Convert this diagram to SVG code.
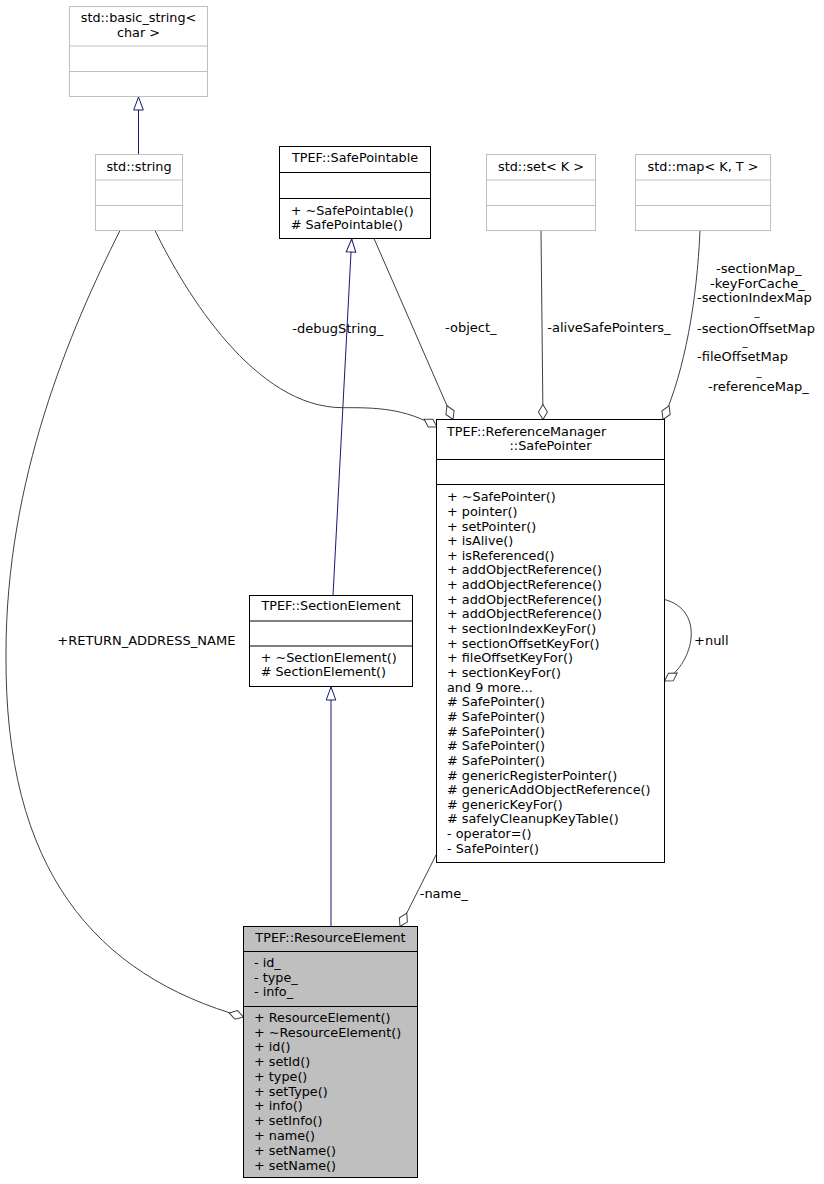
<svg xmlns="http://www.w3.org/2000/svg" width="824" height="1184" viewBox="0 0 824 1184">
<style>
text { font-family: "DejaVu Sans", sans-serif; font-size: 12.8px; fill: #000; }
.lbl { font-size: 13px; }
.us { font-size: 10px; }
.m { text-anchor: middle; }
.ext { fill: #fff; stroke: #bfbfbf; }
.cls { fill: #fff; stroke: #000; }
.cur { fill: #bfbfbf; stroke: #000; }
.sx { stroke: #bfbfbf; }
.sc { stroke: #000; }
.agg { fill: none; stroke: #404040; marker-end: url(#dia); }
.inh { fill: none; stroke: #191970; marker-end: url(#tri); }
</style>
<defs>
<marker id="dia" markerUnits="userSpaceOnUse" orient="auto" refX="0" refY="0" markerWidth="20" markerHeight="12" style="overflow:visible">
<path d="M0,0 L-7.5,-4.5 L-15,0 L-7.5,4.5 Z" fill="#fff" stroke="#404040"/>
</marker>
<marker id="tri" markerUnits="userSpaceOnUse" orient="auto" refX="0" refY="0" markerWidth="14" markerHeight="12" style="overflow:visible">
<path d="M0,0 L-13,-4.8 L-13,4.8 Z" fill="#fff" stroke="#191970"/>
</marker>
</defs>
<rect width="824" height="1184" fill="#fff"/>

<g id="connectors">
<path class="inh" d="M138.5,154.5 L138.5,97"/>
<path class="inh" d="M333,595.5 L351.7,239"/>
<path class="inh" d="M331,926.5 L331,687"/>
<path class="agg" d="M155,230.5 C185,292 255,408 343,407.7 C375,407.5 405,408 437,427"/>
<path class="agg" d="M120,230.5 C70,330 6,480 6,653 C4,870 95,975 243.5,1017"/>
<path class="agg" d="M374,238.5 L453,419.5"/>
<path class="agg" d="M541,230.5 L543,419.5"/>
<path class="agg" d="M700,230.5 C697,300 685,370 663,419.5"/>
<path class="agg" d="M664.5,599.5 C705,610 695,662 664.5,681"/>
<path class="agg" d="M436,855 L400,926.5"/>
<text class="lbl" x="292.3" y="332.8">-debugString_</text>
<text class="lbl" x="445" y="332.2">-object_</text>
<text class="lbl" x="547.3" y="332.2">-aliveSafePointers_</text>
<text class="lbl" x="716" y="273"><tspan x="716" y="273">-sectionMap_</tspan><tspan x="710" y="287.5">-keyForCache_</tspan><tspan x="697" y="302.2">-sectionIndexMap</tspan><tspan class="us" x="754.5" y="315">_</tspan><tspan x="697" y="332.5">-sectionOffsetMap</tspan><tspan class="us" x="742.5" y="345">_</tspan><tspan x="697" y="361.2">-fileOffsetMap</tspan><tspan class="us" x="756.5" y="375.2">_</tspan><tspan x="708" y="391.2">-referenceMap_</tspan></text>
<text class="lbl" x="57.3" y="644.5">+RETURN_ADDRESS_NAME</text>
<text class="lbl" x="694" y="644.5">+null</text>
<text class="lbl" x="419.7" y="897.5">-name_</text>
</g>

<g id="basic_string">
<rect class="ext" x="69.5" y="6.5" width="138" height="90"/>
<line class="sx" x1="69.5" y1="46" x2="207.5" y2="46"/>
<line class="sx" x1="69.5" y1="71.5" x2="207.5" y2="71.5"/>
<text class="m" x="138.5" y="21.8">std::basic_string&lt;</text>
<text class="m" x="138.5" y="37.2">char &gt;</text>
</g>

<g id="std_string">
<rect class="ext" x="95.5" y="154.5" width="87" height="76"/>
<line class="sx" x1="95.5" y1="180" x2="182.5" y2="180"/>
<line class="sx" x1="95.5" y1="205.5" x2="182.5" y2="205.5"/>
<text class="m" x="139" y="170.5">std::string</text>
</g>

<g id="SafePointable">
<rect class="cls" x="279.5" y="146.5" width="151" height="92"/>
<line class="sc" x1="279.5" y1="172.5" x2="430.5" y2="172.5"/>
<line class="sc" x1="279.5" y1="198.5" x2="430.5" y2="198.5"/>
<text class="m" x="355" y="162">TPEF::SafePointable</text>
<text x="290.7" y="214.5">+ ~SafePointable()</text>
<text x="290.7" y="229"># SafePointable()</text>
</g>

<g id="std_set">
<rect class="ext" x="486.5" y="154.5" width="109" height="76"/>
<line class="sx" x1="486.5" y1="180" x2="595.5" y2="180"/>
<line class="sx" x1="486.5" y1="205.5" x2="595.5" y2="205.5"/>
<text class="m" x="541" y="170.5">std::set&lt; K &gt;</text>
</g>

<g id="std_map">
<rect class="ext" x="635.5" y="154.5" width="135" height="76"/>
<line class="sx" x1="635.5" y1="180" x2="770.5" y2="180"/>
<line class="sx" x1="635.5" y1="205.5" x2="770.5" y2="205.5"/>
<text class="m" x="703" y="170.5">std::map&lt; K, T &gt;</text>
</g>

<g id="SafePointer">
<rect class="cls" x="436.5" y="419.5" width="228" height="443"/>
<line class="sc" x1="436.5" y1="459.5" x2="664.5" y2="459.5"/>
<line class="sc" x1="436.5" y1="484.5" x2="664.5" y2="484.5"/>
<text x="447" y="435.5">TPEF::ReferenceManager</text>
<text class="m" x="550.5" y="449.8">::SafePointer</text>
<text x="447" y="501.2"><tspan x="447" dy="0">+ ~SafePointer()</tspan><tspan x="447" dy="14.65">+ pointer()</tspan><tspan x="447" dy="14.65">+ setPointer()</tspan><tspan x="447" dy="14.65">+ isAlive()</tspan><tspan x="447" dy="14.65">+ isReferenced()</tspan><tspan x="447" dy="14.65">+ addObjectReference()</tspan><tspan x="447" dy="14.65">+ addObjectReference()</tspan><tspan x="447" dy="14.65">+ addObjectReference()</tspan><tspan x="447" dy="14.65">+ addObjectReference()</tspan><tspan x="447" dy="14.65">+ sectionIndexKeyFor()</tspan><tspan x="447" dy="14.65">+ sectionOffsetKeyFor()</tspan><tspan x="447" dy="14.65">+ fileOffsetKeyFor()</tspan><tspan x="447" dy="14.65">+ sectionKeyFor()</tspan><tspan x="447" dy="14.65">and 9 more...</tspan><tspan x="447" dy="14.65"># SafePointer()</tspan><tspan x="447" dy="14.65"># SafePointer()</tspan><tspan x="447" dy="14.65"># SafePointer()</tspan><tspan x="447" dy="14.65"># SafePointer()</tspan><tspan x="447" dy="14.65"># SafePointer()</tspan><tspan x="447" dy="14.65"># genericRegisterPointer()</tspan><tspan x="447" dy="14.65"># genericAddObjectReference()</tspan><tspan x="447" dy="14.65"># genericKeyFor()</tspan><tspan x="447" dy="14.65"># safelyCleanupKeyTable()</tspan><tspan x="447" dy="14.65">- operator=()</tspan><tspan x="447" dy="14.65">- SafePointer()</tspan></text>
</g>

<g id="SectionElement">
<rect class="cls" x="249.5" y="595.5" width="163" height="91"/>
<line class="sc" x1="249.5" y1="621" x2="412.5" y2="621"/>
<line class="sc" x1="249.5" y1="646" x2="412.5" y2="646"/>
<text class="m" x="331" y="610.2">TPEF::SectionElement</text>
<text x="260.7" y="662.2">+ ~SectionElement()</text>
<text x="260.7" y="676.2"># SectionElement()</text>
</g>

<g id="ResourceElement">
<rect class="cur" x="243.5" y="926.5" width="174" height="251"/>
<line class="sc" x1="243.5" y1="951.5" x2="417.5" y2="951.5"/>
<line class="sc" x1="243.5" y1="1006.5" x2="417.5" y2="1006.5"/>
<text class="m" x="330.5" y="942.2">TPEF::ResourceElement</text>
<text x="254" y="966.8"><tspan x="254" dy="0">- id_</tspan><tspan x="254" dy="14.7">- type_</tspan><tspan x="254" dy="14.7">- info_</tspan></text>
<text x="254" y="1021.8"><tspan x="254" dy="0">+ ResourceElement()</tspan><tspan x="254" dy="14.77">+ ~ResourceElement()</tspan><tspan x="254" dy="14.77">+ id()</tspan><tspan x="254" dy="14.77">+ setId()</tspan><tspan x="254" dy="14.77">+ type()</tspan><tspan x="254" dy="14.77">+ setType()</tspan><tspan x="254" dy="14.77">+ info()</tspan><tspan x="254" dy="14.77">+ setInfo()</tspan><tspan x="254" dy="14.77">+ name()</tspan><tspan x="254" dy="14.77">+ setName()</tspan><tspan x="254" dy="14.77">+ setName()</tspan></text>
</g>
</svg>
